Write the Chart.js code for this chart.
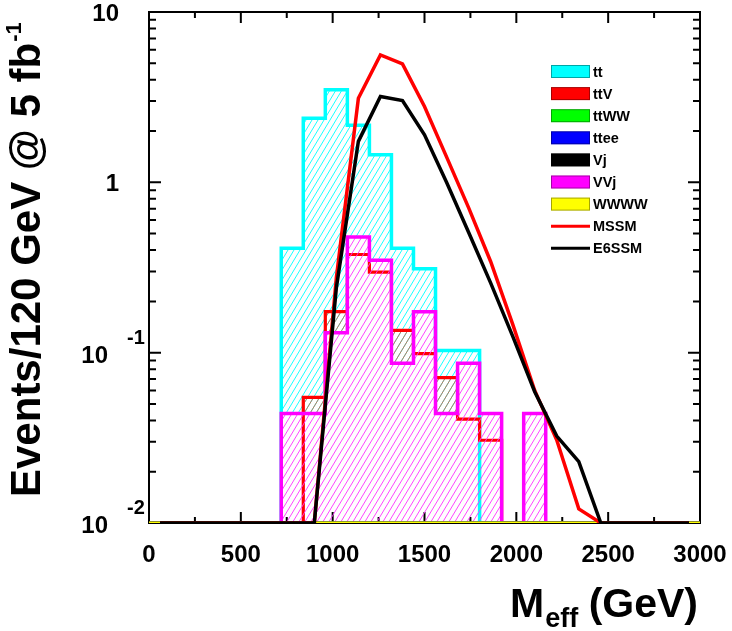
<!DOCTYPE html>
<html>
<head>
<meta charset="utf-8">
<script src="https://cdn.jsdelivr.net/npm/chart.js@4.4.1/dist/chart.umd.min.js"></script>
<style>
  html, body { margin: 0; padding: 0; background: #fff; }
  #wrap { width: 732px; height: 631px; }
</style>
</head>
<body>
<div id="wrap"><canvas id="meffChart" width="732" height="631"></canvas></div>
<script>
// Bins of 120 GeV, 0 - 3000 GeV
const binWidth = 120;
const binLow = [0, 120, 240, 360, 480, 600, 720, 840, 960, 1080, 1200, 1320, 1440, 1560, 1680, 1800, 1920, 2040, 2160, 2280, 2400, 2520, 2640, 2760, 2880];
const binCenter = [60, 180, 300, 420, 540, 660, 780, 900, 1020, 1140, 1260, 1380, 1500, 1620, 1740, 1860, 1980, 2100, 2220, 2340, 2460, 2580, 2700, 2820, 2940];

// Backgrounds (events / bin)
const ttVals   = [0, 0, 0, 0, 0, 0, 0.41, 2.38, 3.49, 2.16, 1.45, 0.41, 0.311, 0.103, 0.103, 0, 0, 0, 0, 0, 0, 0, 0, 0, 0];
const ttVVals  = [0, 0, 0, 0, 0, 0, 0, 0.0546, 0.174, 0.377, 0.297, 0.135, 0.0988, 0.0714, 0.0407, 0.0306, 0, 0, 0, 0, 0, 0, 0, 0, 0];
const ttWWVals = [0, 0, 0, 0, 0, 0, 0, 0, 0, 0, 0, 0, 0, 0, 0, 0, 0, 0, 0, 0, 0, 0, 0, 0, 0];
const tteeVals = [0, 0, 0, 0, 0, 0, 0, 0, 0, 0, 0, 0, 0, 0, 0, 0, 0, 0, 0, 0, 0, 0, 0, 0, 0];
const VjVals   = [0, 0, 0, 0, 0, 0, 0, 0, 0, 0, 0, 0, 0, 0, 0, 0, 0, 0, 0, 0, 0, 0, 0, 0, 0];
const VVjVals  = [0, 0, 0, 0, 0, 0, 0.044, 0.044, 0.131, 0.478, 0.349, 0.0867, 0.174, 0.044, 0.0867, 0.044, 0, 0.044, 0, 0, 0, 0, 0, 0, 0];
const WWWWVals = [0, 0, 0, 0, 0, 0, 0, 0, 0, 0, 0, 0, 0, 0, 0, 0, 0, 0, 0, 0, 0, 0, 0, 0, 0];

// Signals (drawn as lines through bin centres)
const mssmVals  = [0, 0, 0, 0, 0, 0, 0, 0, 0.275, 3.12, 5.6, 4.96, 2.79, 1.41, 0.71, 0.343, 0.147, 0.06, 0.0307, 0.0121, 0, 0, 0, 0, 0];
const e6ssmVals = [0, 0, 0, 0, 0, 0, 0, 0, 0.24, 1.74, 3.19, 3.02, 1.9, 1.0, 0.509, 0.257, 0.125, 0.059, 0.0324, 0.0229, 0, 0, 0, 0, 0];

// Axis ticks / labels
const xTickValues = [0, 500, 1000, 1500, 2000, 2500, 3000];
const yTickValues = [10, 1, 0.1, 0.01];
const yTickBase = ['10', '1', '10', '10'];
const yTickExp = ['', '', '-1', '-2'];
const yMin = 0.01, yMax = 10;

const FONT = '"Liberation Sans", Arial, Helvetica, sans-serif';

// empty bins sit on the frame floor, like ROOT does on a log axis
function toPlot(v) { return v > 0 ? v : yMin; }

function histPoints(values) {
    const pts = [];
    values.forEach((v, i) => {
        pts.push({ x: binLow[i], y: toPlot(v) });
        pts.push({ x: binLow[i] + binWidth, y: toPlot(v) });
    });
    return pts;
}

function curvePoints(values) {
    return values.map((v, i) => ({ x: binCenter[i], y: toPlot(v) }));
}

function hatch(color) {
    const c = document.createElement('canvas');
    c.width = 6; c.height = 10;
    const g = c.getContext('2d');
    g.strokeStyle = color;
    g.lineWidth = 0.9;
    g.beginPath();
    [-6, 0, 6].forEach(dx => { g.moveTo(dx, 10); g.lineTo(dx + 6, 0); });
    g.stroke();
    return g.createPattern(c, 'repeat');
}

const NONE = 'rgba(0,0,0,0)';

// index 5 = VVj, used as fill target so hatches don't overlap
const datasets = [
    { label: 'tt', data: histPoints(ttVals), borderColor: '#00FFFF', borderWidth: 3.5, order: 10,
      fill: { target: 5, above: hatch('#00FFFF'), below: NONE }, legendStyle: 'box' },
    { label: 'ttV', data: histPoints(ttVVals), borderColor: '#FF0000', borderWidth: 3.2, order: 9,
      fill: { target: 5, above: hatch('rgb(200,110,80)'), below: NONE }, legendStyle: 'box' },
    { label: 'ttWW', data: histPoints(ttWWVals), borderColor: '#00FF00', borderWidth: 3, order: 7, fill: false, legendStyle: 'box' },
    { label: 'ttee', data: histPoints(tteeVals), borderColor: '#0000FF', borderWidth: 3, order: 6, fill: false, legendStyle: 'box' },
    { label: 'Vj', data: histPoints(VjVals), borderColor: '#000000', borderWidth: 3, order: 5, fill: false, legendStyle: 'box' },
    { label: 'VVj', data: histPoints(VVjVals), borderColor: '#FF00FF', borderWidth: 3.5, order: 8,
      fill: { target: 'start', above: hatch('#FF33FF'), below: hatch('#FF33FF') }, legendStyle: 'box' },
    { label: 'WWWW', data: histPoints(WWWWVals), borderColor: '#FFFF00', borderWidth: 3, order: 4, fill: false, legendStyle: 'box' },
    { label: 'MSSM', data: curvePoints(mssmVals), borderColor: '#FF0000', borderWidth: 3.5, order: 2, fill: false, legendStyle: 'line' },
    { label: 'E6SSM', data: curvePoints(e6ssmVals), borderColor: '#000000', borderWidth: 3.5, order: 1, fill: false, legendStyle: 'line' }
];

// frame with inward ticks on all four sides
const framePlugin = {
    id: 'frame',
    beforeDatasetsDraw(chart) {
        const { ctx, chartArea: a, scales: { x, y } } = chart;
        ctx.save();
        ctx.strokeStyle = '#000';
        ctx.lineWidth = 2;
        ctx.strokeRect(a.left, a.top, a.right - a.left, a.bottom - a.top);
        ctx.beginPath();
        for (let v = 0; v <= 3000; v += 250) {
            const px = x.getPixelForValue(v);
            const len = v % 500 === 0 ? 11 : 6;
            ctx.moveTo(px, a.bottom); ctx.lineTo(px, a.bottom - len);
            ctx.moveTo(px, a.top); ctx.lineTo(px, a.top + len);
        }
        [0.01, 0.1, 1].forEach(d => {
            for (let k = 1; k <= 9; k++) {
                const py = y.getPixelForValue(d * k);
                const len = k === 1 ? 12 : 7;
                ctx.moveTo(a.left, py); ctx.lineTo(a.left + len, py);
                ctx.moveTo(a.right, py); ctx.lineTo(a.right - len, py);
            }
        });
        ctx.stroke();
        ctx.restore();
    },
    afterDraw(chart) {
        const { ctx, chartArea: a, scales: { x, y } } = chart;
        ctx.save();
        ctx.fillStyle = '#000';
        // x tick labels
        ctx.font = 'bold 24px ' + FONT;
        ctx.textAlign = 'center';
        ctx.textBaseline = 'alphabetic';
        xTickValues.forEach(v => ctx.fillText(String(v), x.getPixelForValue(v), 562));
        // y tick labels
        yTickValues.forEach((v, i) => {
            const py = y.getPixelForValue(v);
            ctx.font = 'bold 24px ' + FONT;
            if (yTickExp[i]) {
                ctx.textAlign = 'right';
                ctx.fillText(yTickBase[i], 108, py + 10);
                ctx.textAlign = 'left';
                ctx.font = 'bold 20px ' + FONT;
                ctx.fillText(yTickExp[i], 127, py - 9);
            } else {
                ctx.textAlign = 'right';
                ctx.fillText(yTickBase[i], 119, py + 9);
            }
        });
        // x title: M_eff (GeV)
        ctx.textAlign = 'left';
        ctx.font = 'bold 41px ' + FONT;
        const wM = ctx.measureText('M').width;
        const wG = ctx.measureText(' (GeV)').width;
        ctx.font = 'bold 27px ' + FONT;
        const wE = ctx.measureText('eff').width;
        let tx = 698 - wM - wE - wG;
        ctx.font = 'bold 41px ' + FONT;
        ctx.fillText('M', tx, 617);
        ctx.font = 'bold 27px ' + FONT;
        ctx.fillText('eff', tx + wM + 1, 627);
        ctx.font = 'bold 41px ' + FONT;
        ctx.fillText(' (GeV)', tx + wM + wE, 617);
        // y title
        ctx.translate(40, 497);
        ctx.rotate(-Math.PI / 2);
        ctx.font = 'bold 42px ' + FONT;
        const main = 'Events/120 GeV @ 5 fb';
        const wMain = ctx.measureText(main).width;
        ctx.fillText(main, 0, 0);
        ctx.font = 'bold 22px ' + FONT;
        ctx.fillText('-1', wMain + 1, -19);
        ctx.restore();
    }
};

// legend inside the frame, top right
const legendPlugin = {
    id: 'boxLegend',
    afterDraw(chart) {
        const { ctx } = chart;
        ctx.save();
        ctx.font = 'bold 14.5px ' + FONT;
        ctx.textAlign = 'left';
        ctx.textBaseline = 'middle';
        chart.data.datasets.forEach((ds, i) => {
            const cy = 71.5 + i * 22.1;
            if (ds.legendStyle === 'box') {
                ctx.fillStyle = ds.borderColor;
                ctx.fillRect(551, cy - 6.5, 39, 13);
                ctx.strokeStyle = 'rgba(0,0,0,0.35)';
                ctx.lineWidth = 1;
                ctx.strokeRect(551.5, cy - 6, 38, 12);
            } else {
                ctx.strokeStyle = ds.borderColor;
                ctx.lineWidth = 3;
                ctx.beginPath();
                ctx.moveTo(551, cy); ctx.lineTo(590, cy);
                ctx.stroke();
            }
            ctx.fillStyle = '#000';
            ctx.fillText(ds.label, 593, cy + 1);
        });
        ctx.restore();
    }
};

const chartCtx = document.getElementById('meffChart').getContext('2d');
const meffChart = new Chart(chartCtx, {
    type: 'line',
    data: { datasets },
    options: {
        responsive: false,
        animation: false,
        layout: { padding: { left: 149, top: 12, right: 32, bottom: 108 } },
        elements: { point: { radius: 0 }, line: { tension: 0, borderJoinStyle: 'miter', borderCapStyle: 'butt' } },
        scales: {
            x: { type: 'linear', min: 0, max: 3000, display: false },
            y: { type: 'logarithmic', min: yMin, max: yMax, display: false }
        },
        plugins: { legend: { display: false }, tooltip: { enabled: false } }
    },
    plugins: [framePlugin, legendPlugin]
});
</script>
</body>
</html>
